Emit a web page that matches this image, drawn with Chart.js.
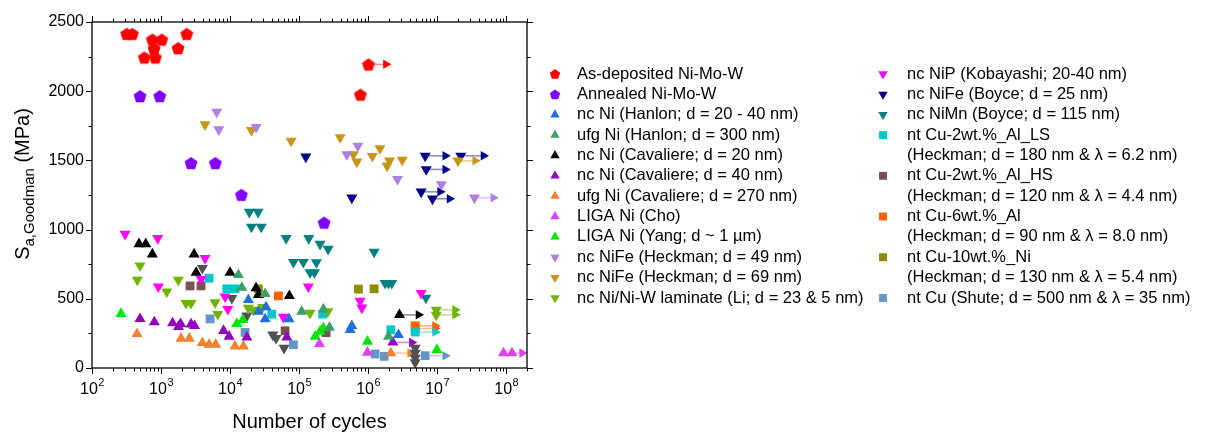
<!DOCTYPE html>
<html>
<head>
<meta charset="utf-8">
<script src="https://cdn.jsdelivr.net/npm/chart.js@4.4.1/dist/chart.umd.min.js"></script>
<style>
  html, body { margin: 0; padding: 0; background: #fff; }
</style>
</head>
<body>
<canvas id="fatigue" width="1210" height="435"></canvas>
<script>
// Each point: [cycles, stress in MPa, optional runout end in cycles]
const asDeposited = [[318, 2415], [384, 2415], [748, 2374], [1023, 2374], [2357, 2415], [792, 2307], [1764, 2312],
  [573, 2244], [827, 2244], [1.01e6, 2194, 1.81e6], [7.73e5, 1976]];
const annealed = [[496, 1965], [957, 1965], [2722, 1482], [6120, 1482], [14580, 1252], [2.3e5, 1051]];
const ncNiHanlon = [[18400, 492], [25700, 408], [33200, 440], [32200, 353], [71600, 353], [5.8e5, 305], [5.48e5, 276], [2.75e6, 240]];
const ufgNiHanlon = [[13200, 673], [14800, 581], [32200, 536], [1.09e5, 408], [2.25e5, 425], [2.75e5, 293], [1.97e6, 228]];
const ncNiCav20 = [[480, 896], [600, 896], [748, 822], [3010, 822], [3220, 689], [10000, 689], [23800, 577], [25700, 528],
  [72300, 521], [2.84e6, 384, 5.36e6]];
const ncNiCav40 = [[496, 355], [800, 332], [1470, 324], [1790, 298], [1920, 319], [2720, 316], [3060, 305], [8050, 269],
  [9680, 228], [17500, 221], [66300, 221], [2.28e6, 185, 4.3e6]];
const ufgNiCav270 = [[449, 247], [1950, 213], [2570, 213], [3970, 182], [4960, 170], [6200, 170], [11800, 156], [15600, 156],
  [2.13e6, 108, 4.06e6]];
const ligaCho = [[1.97e5, 175], [9.77e5, 112], [9.14e7, 108], [1.21e8, 108, 1.7e8]];
const ligaYang = [[263, 392], [12500, 319], [15300, 348], [1.71e5, 228], [2.01e5, 264], [2.25e5, 288], [9.77e5, 192], [9.9e6, 132]];
const nife49 = [[6410, 1850], [6860, 1723], [23800, 1740], [7.1e5, 1605], [4.91e5, 1543], [2.66e6, 1365], [1.15e7, 1327],
  [3.47e7, 1230, 6.5e7]];
const nife69 = [[4340, 1759], [20400, 1718], [76600, 1641], [3.93e5, 1666], [6.12e5, 1543], [6.86e5, 1490], [1.15e6, 1531],
  [1.48e6, 1586], [2.04e6, 1497], [1.88e6, 1461], [3.11e6, 1504], [2.0e7, 1497, 3.56e7]];
const laminateLi = [[496, 740], [454, 637], [1210, 552], [1780, 637], [2300, 469], [2720, 469], [6060, 473], [6630, 389],
  [18400, 433], [21800, 420], [29800, 440], [1.44e5, 397], [2.61e5, 408], [9.68e6, 420, 1.82e7], [9.68e6, 384, 1.82e7]];
const nipKobayashi = [[301, 968], [896, 937], [914, 588], [4340, 793], [3800, 642], [8470, 516], [9270, 425], [1.36e5, 588],
  [59200, 368], [7.66e5, 485], [8.1e5, 435], [5.86e6, 541]];
const nifeBoyce = [[1.25e5, 1526], [6.7e6, 1533, 1.31e7], [2.2e7, 1533, 4.69e7], [6.93e6, 1435, 1.31e7], [5.86e6, 1273, 1.1e7],
  [8.55e6, 1223, 1.51e7], [5.8e5, 1230]];
const nimnBoyce = [[19000, 1127], [25500, 1127], [20400, 1019], [28300, 1019], [64800, 937], [1.38e5, 937], [2.01e5, 896],
  [2.63e5, 860], [1.22e6, 839], [82700, 765], [1.15e5, 765], [1.78e5, 763], [1.44e5, 691], [1.67e5, 691], [1.76e6, 613],
  [1.97e6, 613], [2.2e6, 613], [6.86e6, 507]];
const cu2AlLS = [[4960, 649], [8950, 572], [11800, 572], [40200, 389], [2.2e5, 389], [2.13e6, 276], [4.8e6, 260, 9.35e6]];
const cu2AlHS = [[2630, 593], [3800, 593], [62700, 269], [2.46e5, 255]];
const cu6Al = [[50100, 521], [4.8e6, 305, 9.35e6], [4.8e6, 285, 9.35e6]];
const cu10Ni = [[25700, 572], [7.23e5, 570], [1.22e6, 572]];
const cuShute = [[5130, 355], [16500, 257], [82700, 168], [1.26e6, 101], [1.71e6, 84], [6.7e6, 89, 1.31e7]];
const unlabeled = [[3970, 721], [10600, 505], [17500, 377], [41600, 240], [46400, 216], [60600, 144], [4.8e6, 144],
  [4.8e6, 108], [4.8e6, 72], [4.8e6, 40]];

const xDecades = [2, 3, 4, 5, 6, 7, 8];
const yTicks = [0, 500, 1000, 1500, 2000, 2500];

const series = [
  { label: 'As-deposited Ni-Mo-W', data: asDeposited, color: '#ff0000', shape: 'pentagon' },
  { label: 'Annealed Ni-Mo-W', data: annealed, color: '#7f00ff', shape: 'pentagon' },
  { label: 'nc Ni (Hanlon; d = 20 - 40 nm)', data: ncNiHanlon, color: '#1f6fdc', shape: 'up' },
  { label: 'ufg Ni (Hanlon; d = 300 nm)', data: ufgNiHanlon, color: '#3ca064', shape: 'up' },
  { label: 'nc Ni (Cavaliere; d = 20 nm)', data: ncNiCav20, color: '#000000', shape: 'up' },
  { label: 'nc Ni (Cavaliere; d = 40 nm)', data: ncNiCav40, color: '#9400c0', shape: 'up' },
  { label: 'ufg Ni (Cavaliere; d = 270 nm)', data: ufgNiCav270, color: '#f08232', shape: 'up' },
  { label: 'LIGA Ni (Cho)', data: ligaCho, color: '#e040f0', shape: 'up' },
  { label: 'LIGA Ni (Yang; d ~ 1 µm)', data: ligaYang, color: '#00e600', shape: 'up' },
  { label: 'nc NiFe (Heckman; d = 49 nm)', data: nife49, color: '#b07fe0', shape: 'down' },
  { label: 'nc NiFe (Heckman; d = 69 nm)', data: nife69, color: '#c89614', shape: 'down' },
  { label: 'nc Ni/Ni-W laminate (Li; d = 23 & 5 nm)', data: laminateLi, color: '#6eb400', shape: 'down' },
  { label: 'nc NiP (Kobayashi; 20-40 nm)', data: nipKobayashi, color: '#ff00ff', shape: 'down' },
  { label: 'nc NiFe (Boyce; d = 25 nm)', data: nifeBoyce, color: '#00008b', shape: 'down' },
  { label: 'nc NiMn (Boyce; d = 115 nm)', data: nimnBoyce, color: '#008080', shape: 'down' },
  { label: 'nt Cu-2wt.%_Al_LS\n(Heckman; d = 180 nm & λ = 6.2 nm)', data: cu2AlLS, color: '#00c8c8', shape: 'square' },
  { label: 'nt Cu-2wt.%_Al_HS\n(Heckman; d = 120 nm & λ = 4.4 nm)', data: cu2AlHS, color: '#7a5050', shape: 'square' },
  { label: 'nt Cu-6wt.%_Al\n(Heckman; d = 90 nm & λ = 8.0 nm)', data: cu6Al, color: '#ff6400', shape: 'square' },
  { label: 'nt Cu-10wt.%_Ni\n(Heckman; d = 130 nm & λ = 5.4 nm)', data: cu10Ni, color: '#8c8c00', shape: 'square' },
  { label: 'nt Cu (Shute; d = 500 nm & λ = 35 nm)', data: cuShute, color: '#6496c8', shape: 'square' },
  { label: '', data: unlabeled, color: '#505050', shape: 'down', noLegend: true },
];

const FONT = '"Liberation Sans", Arial, Helvetica, sans-serif';

function drawShape(ctx, shape, x, y, r, color) {
  ctx.save();
  ctx.fillStyle = color;
  ctx.beginPath();
  if (shape === 'square') {
    const h = r * Math.SQRT1_2;
    ctx.rect(x - h, y - h, 2 * h, 2 * h);
  } else {
    const n = shape === 'pentagon' ? 5 : 3;
    const start = shape === 'down' ? Math.PI / 2 : -Math.PI / 2;
    for (let i = 0; i < n; i++) {
      const a = start + i * 2 * Math.PI / n;
      const px = x + Math.cos(a) * r, py = y + Math.sin(a) * r;
      if (i === 0) ctx.moveTo(px, py); else ctx.lineTo(px, py);
    }
    ctx.closePath();
  }
  ctx.fill();
  ctx.restore();
}

function pentagonImage(color, r) {
  const c = document.createElement('canvas');
  const s = Math.ceil(2 * r + 2);
  c.width = s; c.height = s;
  drawShape(c.getContext('2d'), 'pentagon', s / 2, s / 2 + r * 0.1, r, color);
  return c;
}

function fade(hex, a) {
  const n = parseInt(hex.slice(1), 16);
  return `rgba(${(n >> 16) & 255},${(n >> 8) & 255},${n & 255},${a})`;
}

const datasets = [];
series.forEach(s => {
  // runout arrows first so the markers sit on top
  s.data.filter(p => p.length > 2).forEach(p => {
    datasets.push({
      type: 'scatter',
      data: [{ x: p[0], y: p[1] }, { x: p[2], y: p[1] }],
      showLine: true,
      borderColor: fade(s.color, 0.45),
      borderWidth: 1.6,
      pointRadius: [0, 5.5],
      pointStyle: 'triangle',
      rotation: 90,
      pointBackgroundColor: s.color,
      pointBorderWidth: 0,
      order: 2,
    });
  });
  const isPent = s.shape === 'pentagon';
  datasets.push({
    type: 'scatter',
    label: s.label,
    data: s.data.map(p => ({ x: p[0], y: p[1] })),
    pointStyle: isPent ? pentagonImage(s.color, 6.8) : (s.shape === 'square' ? 'rect' : 'triangle'),
    rotation: s.shape === 'down' ? 180 : 0,
    pointRadius: s.shape === 'square' ? 6.2 : 6.4,
    pointHoverRadius: s.shape === 'square' ? 6.2 : 6.4,
    backgroundColor: s.color,
    borderWidth: 0,
    order: 1,
  });
});

const framePlugin = {
  id: 'frame',
  afterDraw(chart) {
    const { ctx, chartArea: a, scales: { x, y } } = chart;
    ctx.save();
    ctx.strokeStyle = '#000';
    ctx.lineWidth = 1.3;
    ctx.strokeRect(a.left, a.top, a.right - a.left, a.bottom - a.top);

    ctx.beginPath();
    ctx.lineWidth = 1;
    xDecades.forEach(e => {
      for (let k = 1; k <= 9; k++) {
        const v = k * Math.pow(10, e);
        if (v > x.max) break;
        const px = Math.round(x.getPixelForValue(v)) + 0.5;
        const len = k === 1 ? 6 : 3.5;
        ctx.moveTo(px, a.bottom); ctx.lineTo(px, a.bottom + len);
        ctx.moveTo(px, a.top); ctx.lineTo(px, a.top - len);
      }
    });
    for (let v = 0; v <= 2500; v += 250) {
      const py = Math.round(y.getPixelForValue(v)) + 0.5;
      const len = v % 500 === 0 ? 6 : 3.5;
      ctx.moveTo(a.left, py); ctx.lineTo(a.left - len, py);
      ctx.moveTo(a.right, py); ctx.lineTo(a.right + len, py);
    }
    ctx.stroke();

    // x tick labels with superscript exponents
    ctx.fillStyle = '#000';
    ctx.textBaseline = 'alphabetic';
    ctx.textAlign = 'left';
    xDecades.forEach(e => {
      const px = x.getPixelForValue(Math.pow(10, e));
      ctx.font = `16px ${FONT}`;
      const w1 = ctx.measureText('10').width;
      ctx.font = `11px ${FONT}`;
      const w2 = ctx.measureText(String(e)).width;
      const x0 = px - (w1 + w2) / 2;
      ctx.font = `16px ${FONT}`;
      ctx.fillText('10', x0, 394);
      ctx.font = `11px ${FONT}`;
      ctx.fillText(String(e), x0 + w1 + 0.5, 386);
    });

    // axis titles
    ctx.font = `20px ${FONT}`;
    ctx.textAlign = 'center';
    ctx.fillText('Number of cycles', (a.left + a.right) / 2, 428);

    ctx.save();
    ctx.translate(29, 184);
    ctx.rotate(-Math.PI / 2);
    ctx.textAlign = 'left';
    const parts = [['S', 20, 0], ['a,Goodman', 15, 5], [' (MPa)', 20, 0]];
    let total = 0;
    parts.forEach(([t, f]) => { ctx.font = `${f}px ${FONT}`; total += ctx.measureText(t).width; });
    let cx = -total / 2;
    parts.forEach(([t, f, dy]) => {
      ctx.font = `${f}px ${FONT}`;
      ctx.fillText(t, cx, dy);
      cx += ctx.measureText(t).width;
    });
    ctx.restore();

    // legend, two columns
    const rowH = 20.36, top = 74;
    const cols = [{ mx: 555, tx: 577 }, { mx: 883, tx: 907 }];
    let col = 0, row = 0;
    ctx.textBaseline = 'middle';
    ctx.textAlign = 'left';
    ctx.font = `16.5px ${FONT}`;
    series.filter(s => !s.noLegend).forEach((s, i) => {
      if (i === 12) { col = 1; row = 0; }
      const c = cols[col];
      const yy = top + row * rowH;
      const r = s.shape === 'square' ? 5.6 : 5.4;
      drawShape(ctx, s.shape, c.mx, yy + (s.shape === 'pentagon' ? 0.5 : 0), r, s.color);
      ctx.fillStyle = '#000';
      s.label.split('\n').forEach((line, j) => {
        ctx.fillText(line, c.tx, top + (row + j) * rowH);
      });
      row += s.label.split('\n').length;
    });
    ctx.restore();
  }
};

new Chart(document.getElementById('fatigue'), {
  type: 'scatter',
  data: { datasets },
  options: {
    responsive: false,
    animation: false,
    layout: { padding: { left: 0, right: 683, top: 22, bottom: 0 } },
    plugins: {
      legend: { display: false },
      tooltip: { enabled: false },
    },
    scales: {
      x: {
        type: 'logarithmic',
        min: 100,
        max: 2e8,
        grid: { display: false, drawTicks: false },
        border: { display: false },
        ticks: { display: false },
        afterFit: s => { s.height = 67; },
      },
      y: {
        type: 'linear',
        min: 0,
        max: 2500,
        grid: { display: false, drawTicks: false },
        border: { display: false },
        ticks: {
          stepSize: 500,
          padding: 8,
          color: '#000',
          font: { size: 16, family: FONT },
          callback: v => (yTicks.includes(v) ? String(v) : ''),
        },
        afterFit: s => { s.width = 92; },
      },
    },
  },
  plugins: [framePlugin],
});
</script>
</body>
</html>
